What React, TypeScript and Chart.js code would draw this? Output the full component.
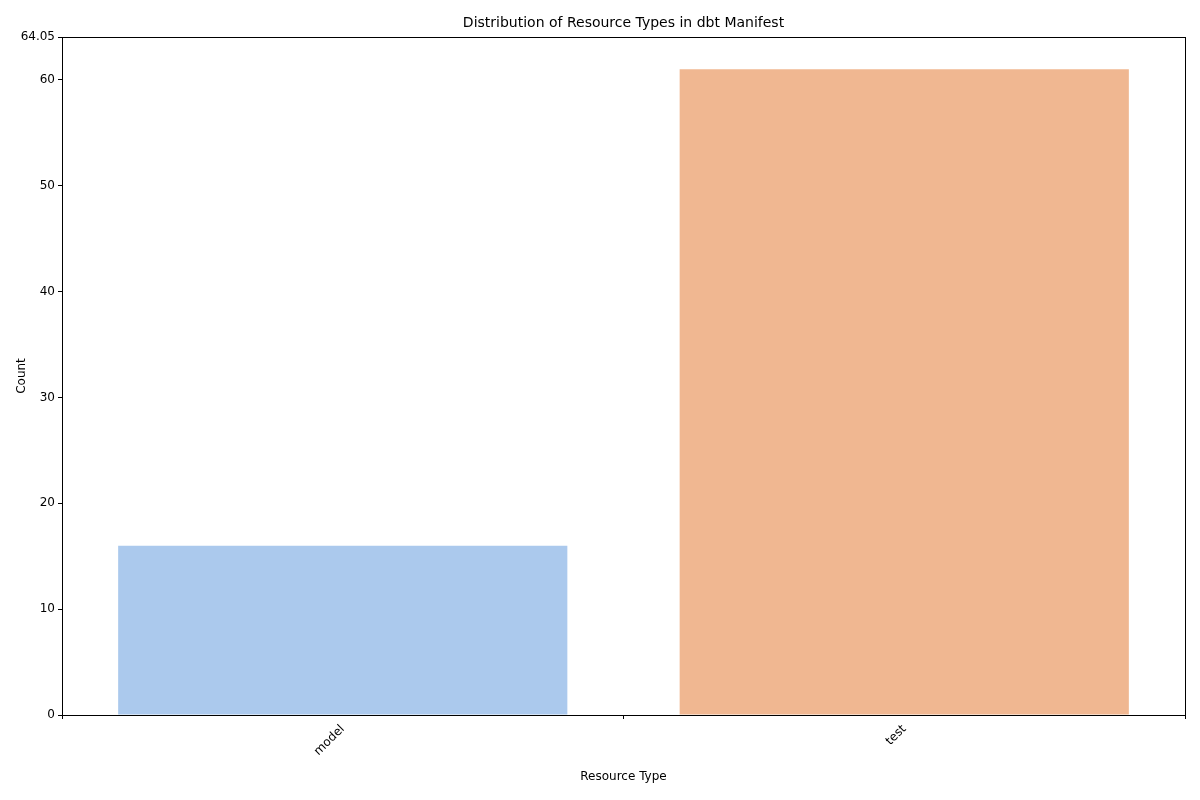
import { useEffect, useRef } from 'react';
import { Chart, registerables } from 'chart.js';

Chart.register(...registerables);

const categories = ['model', 'test'];
const counts = [16, 61];
const barColors = ['#abc9ed', '#f0b791'];

const FONT = 'DejaVu Sans, sans-serif';

const framePlugin = {
	id: 'frame',
	afterDraw(chart: any) {
		const { ctx, chartArea: a } = chart;
		ctx.save();
		ctx.strokeStyle = '#000';
		ctx.lineWidth = 1;
		ctx.strokeRect(a.left + 0.5, a.top + 0.5, a.right - a.left, a.bottom - a.top);
		ctx.fillStyle = '#000';
		ctx.textAlign = 'center';
		ctx.textBaseline = 'middle';
		ctx.font = `14px ${FONT}`;
		ctx.fillText('Distribution of Resource Types in dbt Manifest', (a.left + a.right) / 2, 23);
		ctx.font = `12px ${FONT}`;
		ctx.fillText('Resource Type', (a.left + a.right) / 2, 777);
		ctx.translate(22, (a.top + a.bottom) / 2);
		ctx.rotate(-Math.PI / 2);
		ctx.fillText('Count', 0, 0);
		ctx.restore();
	}
};

export default function App() {
	const ref = useRef<HTMLCanvasElement | null>(null);

	useEffect(() => {
		let chart: Chart | null = null;
		if (ref.current) {
			chart = new Chart(ref.current, {
				type: 'bar',
				data: {
					labels: categories,
					datasets: [{ data: counts, backgroundColor: barColors, categoryPercentage: 1, barPercentage: 0.8 }]
				},
				options: {
					animation: false,
					responsive: false,
					layout: { padding: { left: 0, top: 37, right: 15, bottom: 0 } },
					plugins: { legend: { display: false }, tooltip: { enabled: false } },
					scales: {
						x: {
							grid: { display: true, drawOnChartArea: false, tickLength: 4, color: '#000' },
							border: { display: false },
							ticks: { color: '#000', font: { family: FONT, size: 12 }, minRotation: 45, maxRotation: 45 },
							afterFit: (s: any) => { s.height = 85; }
						},
						y: {
							min: 0,
							max: 64.05,
							grid: { display: true, drawOnChartArea: false, tickLength: 4, color: '#000' },
							border: { display: false },
							ticks: { color: '#000', stepSize: 10, font: { family: FONT, size: 12 } },
							afterFit: (s: any) => { s.width = 62; }
						}
					}
				},
				plugins: [framePlugin]
			});
		}
		return () => { if (chart) chart.destroy(); };
	}, []);

	return (
		<div style={{ position: 'absolute', left: 0, top: 0, width: 1200, height: 800, background: '#fff' }}>
			<canvas ref={ref} width={1200} height={800} style={{ width: 1200, height: 800 }} />
		</div>
	);
}
